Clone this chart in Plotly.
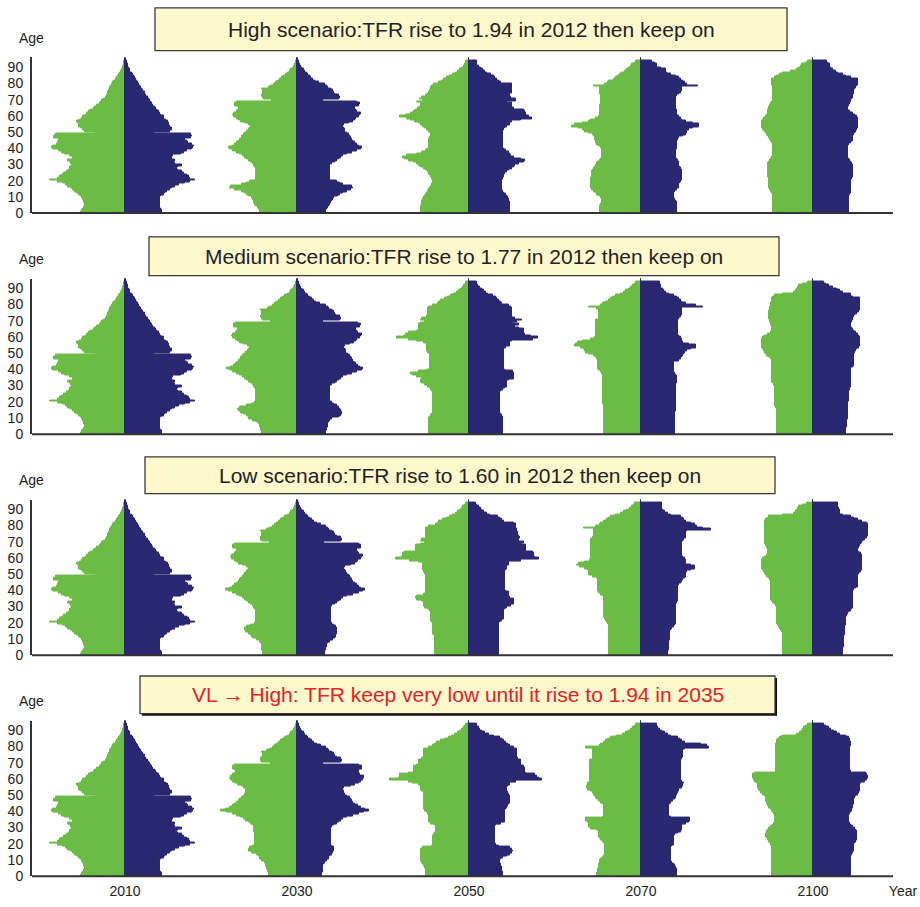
import numpy as np
import plotly.graph_objects as go

# ---------------------------------------------------------------------------
# Population by single year of age (0..95), relative units.
# "_m" = male (drawn to the left, green), "_f" = female (right, navy).
# ---------------------------------------------------------------------------
ages = np.arange(96)
years = ["2010", "2030", "2050", "2070", "2100"]

# Base year, identical in every scenario
male_2010 = [44, 43, 42, 41, 40, 40, 41, 41, 42, 43,
             44, 46, 48, 50, 52, 54, 57, 59, 62, 67,
             75, 67, 65, 63, 61, 58, 56, 55, 55, 53,
             54, 55, 57, 52, 52, 55, 60, 63, 66, 72,
             73, 72, 68, 67, 66, 66, 71, 71, 69, 29,
             40, 42, 44, 46, 46, 47, 48, 45, 43, 42,
             39, 38, 36, 34, 31, 30, 28, 25, 24, 23,
             21, 19, 18, 17, 17, 16, 15, 15, 14, 13,
             12, 11, 9, 8, 7, 6, 5, 4, 3, 2,
             2, 1, 1, 1, 0.5, 0.5]
female_2010 = [37, 37, 36, 35, 35, 35, 35, 35, 35, 35,
               36, 39, 40, 42, 45, 47, 50, 54, 60, 65,
               70, 65, 64, 62, 59, 57, 53, 52, 53, 57,
               50, 49, 50, 47, 47, 48, 56, 59, 62, 67,
               68, 69, 67, 63, 62, 60, 66, 67, 66, 29,
               45, 47, 47, 45, 44, 44, 43, 41, 39, 39,
               36, 35, 34, 32, 31, 30, 28, 27, 26, 25,
               24, 23, 21, 20, 20, 18, 17, 16, 15, 14,
               13, 12, 11, 10, 9, 8, 7, 5, 5, 4,
               3, 3, 2, 2, 1, 1]

# --- High scenario ----------------------------------------------------------
high_2030_m = [37, 37, 38, 39, 41, 42, 43, 43, 44, 45,
               48, 50, 52, 55, 62, 67, 66, 55, 50, 47,
               41, 41, 41, 41, 41, 41, 41, 41, 42, 43,
               44, 46, 48, 50, 52, 54, 57, 60, 64, 67,
               68, 64, 62, 60, 58, 57, 55, 55, 53, 52,
               50, 48, 47, 46, 48, 52, 56, 58, 60, 63,
               64, 63, 60, 59, 58, 58, 62, 62, 60, 25,
               33, 34, 35, 34, 34, 34, 35, 28, 26, 23,
               21, 19, 17, 15, 13, 11, 9, 7, 6, 4,
               3, 2, 1, 1, 0.5, 0]
high_2030_f = [29, 29, 30, 31, 32, 33, 34, 35, 36, 37,
               41, 43, 46, 50, 54, 56, 55, 46, 43, 40,
               33, 33, 33, 33, 33, 33, 33, 33, 33, 33,
               35, 38, 40, 42, 44, 46, 50, 55, 60, 64,
               65, 62, 60, 58, 56, 55, 54, 53, 52, 50,
               48, 48, 47, 46, 47, 52, 56, 58, 59, 62,
               63, 64, 60, 59, 58, 58, 62, 63, 60, 26,
               42, 43, 42, 38, 37, 36, 34, 31, 30, 28,
               22, 18, 16, 14, 13, 11, 10, 8, 7, 5,
               4, 3, 2, 2, 1, 1]
high_2050_m = [48, 48, 48, 48, 48, 47, 47, 47, 46, 45,
               44, 43, 42, 41, 40, 39, 38, 37, 36, 36,
               36, 37, 38, 39, 40, 41, 43, 45, 48, 50,
               52, 55, 60, 64, 66, 62, 52, 47, 43, 41,
               40, 40, 40, 40, 40, 40, 39, 38, 38, 38,
               40, 42, 44, 46, 48, 50, 54, 58, 62, 69,
               63, 58, 55, 53, 51, 49, 48, 48, 52, 46,
               49, 47, 43, 41, 40, 39, 38, 38, 37, 35,
               30, 27, 25, 22, 19, 16, 13, 11, 9, 7,
               5, 4, 3, 3, 0, 0]
high_2050_f = [41, 41, 41, 41, 41, 41, 41, 40, 40, 39,
               38, 37, 35, 34, 33, 33, 33, 33, 33, 33,
               33, 34, 35, 35, 36, 38, 40, 43, 45, 46,
               50, 55, 56, 52, 45, 42, 41, 40, 37, 35,
               34, 34, 34, 34, 34, 34, 34, 34, 34, 34,
               34, 35, 36, 38, 41, 41, 43, 52, 63, 60,
               57, 57, 56, 55, 45, 43, 43, 43, 38, 47,
               47, 42, 41, 41, 43, 43, 43, 43, 43, 43,
               32, 30, 28, 26, 25, 22, 18, 16, 14, 12,
               10, 8, 8, 8, 0, 0]
high_2070_m = [41, 41, 41, 41, 41, 40, 39, 39, 39, 40,
               42, 44, 45, 47, 49, 50, 50, 50, 50, 50,
               50, 50, 49, 49, 49, 49, 48, 47, 46, 45,
               44, 43, 41, 40, 39, 39, 39, 39, 39, 39,
               40, 42, 44, 45, 45, 46, 46, 47, 48, 52,
               56, 58, 62, 69, 66, 58, 52, 50, 45, 42,
               41, 41, 41, 41, 41, 41, 41, 40, 40, 40,
               40, 40, 40, 41, 41, 41, 41, 41, 47, 36,
               33, 32, 27, 25, 23, 21, 19, 16, 14, 12,
               10, 9, 6, 5, 0, 0]
high_2070_f = [36, 36, 36, 36, 36, 36, 36, 35, 34, 33,
               33, 33, 33, 34, 36, 38, 38, 38, 39, 40,
               41, 41, 41, 41, 41, 41, 41, 40, 39, 38,
               38, 38, 37, 36, 35, 35, 35, 35, 35, 36,
               36, 36, 36, 36, 36, 37, 38, 42, 45, 46,
               46, 48, 52, 58, 58, 52, 45, 41, 40, 38,
               36, 36, 36, 36, 35, 35, 35, 35, 35, 35,
               35, 35, 36, 38, 40, 41, 41, 41, 57, 46,
               44, 42, 40, 38, 35, 30, 26, 25, 25, 20,
               16, 16, 14, 11, 0, 0]
high_2100_m = [40, 40, 40, 40, 40, 40, 40, 40, 40, 40,
               40, 40, 41, 42, 43, 44, 44, 44, 44, 44,
               44, 44, 45, 45, 45, 45, 45, 45, 45, 45,
               45, 44, 43, 42, 41, 40, 40, 40, 40, 40,
               40, 40, 40, 41, 42, 43, 44, 45, 46, 47,
               48, 50, 51, 51, 51, 51, 51, 50, 49, 47,
               46, 45, 45, 45, 44, 44, 43, 42, 41, 40,
               40, 40, 40, 40, 40, 40, 40, 40, 40, 41,
               41, 41, 41, 38, 36, 33, 30, 22, 16, 14,
               12, 11, 7, 5, 0, 0]
high_2100_f = [36, 36, 36, 36, 36, 36, 36, 36, 36, 36,
               36, 37, 38, 38, 38, 38, 38, 38, 38, 38,
               38, 39, 40, 40, 40, 40, 40, 40, 40, 40,
               39, 38, 37, 36, 35, 35, 35, 35, 35, 35,
               35, 35, 36, 38, 40, 40, 40, 40, 41, 42,
               43, 44, 45, 45, 45, 45, 45, 45, 45, 44,
               42, 40, 37, 35, 35, 35, 36, 37, 38, 38,
               39, 40, 40, 41, 41, 41, 42, 43, 44, 45,
               45, 45, 45, 38, 33, 30, 25, 23, 20, 18,
               17, 17, 15, 14, 0, 0]

# --- Medium scenario --------------------------------------------------------
mid_2030_m = [35, 35, 36, 36, 37, 37, 38, 40, 44, 48,
              48, 50, 53, 56, 58, 59, 57, 50, 45, 42,
              41, 41, 41, 41, 41, 41, 41, 41, 42, 43,
              44, 46, 48, 50, 52, 54, 57, 60, 64, 67,
              70, 66, 63, 61, 59, 58, 56, 56, 54, 53,
              51, 49, 48, 47, 49, 53, 57, 59, 61, 64,
              65, 64, 61, 60, 59, 59, 63, 63, 61, 26,
              34, 35, 36, 35, 35, 35, 36, 29, 27, 24,
              22, 20, 18, 16, 14, 12, 9, 7, 6, 4,
              3, 2, 1, 1, 0.5, 0]
mid_2030_f = [29, 29, 30, 30, 31, 31, 31, 32, 33, 35,
              42, 44, 45, 45, 44, 43, 42, 40, 37, 35,
              33, 33, 33, 33, 33, 33, 33, 33, 33, 33,
              35, 38, 40, 42, 44, 46, 50, 55, 60, 65,
              66, 63, 61, 59, 57, 56, 55, 54, 53, 51,
              49, 49, 48, 47, 48, 53, 57, 59, 60, 63,
              64, 65, 61, 60, 59, 59, 63, 64, 61, 26,
              43, 44, 43, 39, 38, 37, 35, 32, 31, 29,
              23, 19, 17, 15, 13, 11, 10, 8, 7, 5,
              4, 3, 2, 2, 1, 1]
mid_2050_m = [40, 40, 40, 40, 40, 40, 40, 40, 40, 40,
              39, 38, 37, 36, 36, 36, 36, 36, 36, 36,
              36, 36, 36, 36, 36, 36, 37, 38, 39, 41,
              44, 47, 48, 48, 47, 52, 56, 58, 50, 42,
              39, 39, 39, 39, 39, 39, 39, 39, 39, 39,
              41, 42, 42, 42, 42, 42, 45, 52, 60, 72,
              65, 63, 60, 52, 50, 50, 50, 50, 48, 44,
              48, 47, 42, 41, 41, 41, 41, 41, 40, 36,
              31, 30, 28, 24, 21, 18, 15, 12, 10, 8,
              6, 5, 3, 3, 0, 0]
mid_2050_f = [34, 34, 34, 34, 34, 34, 34, 34, 34, 34,
              34, 33, 32, 31, 31, 31, 31, 31, 31, 31,
              31, 31, 31, 31, 31, 31, 32, 34, 36, 38,
              38, 38, 38, 40, 45, 45, 45, 45, 44, 36,
              35, 35, 35, 35, 35, 35, 35, 35, 35, 35,
              35, 35, 35, 37, 41, 41, 41, 43, 64, 69,
              62, 56, 55, 55, 55, 50, 46, 50, 44, 48,
              53, 46, 43, 43, 43, 43, 43, 43, 42, 40,
              33, 32, 30, 28, 27, 24, 19, 17, 15, 13,
              11, 9, 8, 8, 0, 0]
mid_2070_m = [37, 37, 37, 37, 37, 37, 37, 37, 37, 37,
              37, 37, 37, 37, 37, 37, 37, 37, 38, 38,
              38, 38, 38, 38, 38, 38, 38, 38, 38, 38,
              38, 38, 38, 38, 38, 38, 38, 39, 40, 42,
              43, 43, 43, 43, 43, 43, 44, 45, 47, 52,
              55, 56, 57, 60, 66, 65, 63, 58, 50, 46,
              45, 45, 45, 45, 45, 45, 45, 45, 45, 45,
              45, 42, 42, 42, 42, 42, 42, 44, 52, 40,
              38, 35, 32, 30, 28, 25, 20, 17, 15, 12,
              10, 8, 6, 5, 0, 0]
mid_2070_f = [34, 34, 34, 34, 34, 34, 34, 34, 34, 34,
              34, 34, 34, 34, 35, 35, 35, 35, 35, 35,
              35, 35, 35, 35, 35, 35, 35, 35, 35, 35,
              35, 36, 36, 36, 36, 36, 35, 34, 33, 33,
              33, 33, 33, 33, 33, 38, 40, 41, 42, 43,
              44, 46, 50, 55, 55, 48, 42, 41, 41, 40,
              38, 37, 37, 37, 37, 37, 37, 37, 37, 37,
              37, 38, 40, 41, 41, 41, 41, 41, 62, 55,
              45, 41, 40, 38, 36, 33, 28, 25, 23, 22,
              20, 20, 19, 19, 0, 0]
mid_2100_m = [36, 36, 36, 36, 36, 36, 36, 36, 36, 36,
              36, 36, 36, 36, 36, 36, 37, 38, 38, 38,
              38, 38, 38, 38, 38, 38, 38, 38, 38, 38,
              39, 40, 41, 41, 41, 41, 41, 41, 41, 41,
              41, 41, 41, 41, 41, 41, 42, 44, 46, 47,
              48, 49, 50, 51, 51, 51, 51, 51, 51, 50,
              48, 45, 42, 41, 41, 41, 41, 42, 42, 43,
              43, 44, 44, 44, 44, 44, 43, 43, 43, 42,
              42, 41, 41, 41, 40, 38, 30, 19, 17, 16,
              15, 14, 10, 5, 0, 0]
mid_2100_f = [33, 33, 33, 33, 34, 34, 34, 34, 34, 35,
              35, 35, 35, 35, 35, 35, 35, 35, 35, 35,
              36, 36, 36, 36, 36, 36, 36, 37, 37, 38,
              38, 38, 38, 38, 38, 38, 38, 38, 38, 38,
              38, 40, 41, 41, 41, 41, 41, 41, 41, 41,
              42, 43, 44, 46, 47, 47, 47, 47, 47, 47,
              46, 45, 43, 41, 40, 39, 38, 38, 38, 39,
              40, 40, 41, 42, 44, 46, 47, 47, 47, 47,
              47, 47, 47, 47, 40, 38, 38, 30, 27, 24,
              20, 16, 13, 11, 0, 0]

# --- Low scenario -----------------------------------------------------------
low_2030_m = [34, 34, 34, 35, 35, 35, 35, 36, 37, 40,
              44, 45, 46, 48, 51, 52, 52, 50, 46, 42,
              41, 41, 41, 41, 41, 41, 41, 41, 42, 43,
              44, 46, 48, 50, 52, 54, 57, 60, 64, 68,
              71, 67, 64, 62, 60, 58, 57, 56, 54, 53,
              52, 50, 49, 48, 50, 54, 58, 60, 62, 65,
              66, 65, 62, 61, 60, 60, 64, 64, 62, 27,
              35, 36, 36, 35, 35, 35, 36, 30, 27, 24,
              22, 20, 18, 16, 14, 12, 9, 7, 6, 4,
              3, 2, 1, 1, 0.5, 0]
low_2030_f = [28, 28, 28, 29, 29, 30, 30, 31, 33, 36,
              38, 39, 39, 40, 40, 40, 40, 39, 37, 35,
              34, 34, 34, 34, 34, 34, 34, 34, 34, 34,
              35, 38, 40, 42, 44, 46, 50, 56, 62, 66,
              68, 64, 62, 60, 58, 56, 55, 54, 53, 52,
              50, 49, 48, 47, 48, 54, 58, 60, 61, 64,
              65, 66, 62, 61, 60, 60, 64, 64, 62, 27,
              44, 45, 44, 40, 38, 37, 35, 32, 31, 29,
              24, 20, 17, 15, 13, 11, 10, 8, 7, 5,
              4, 3, 2, 2, 1, 1]
low_2050_m = [34, 34, 34, 34, 34, 34, 34, 34, 34, 34,
              34, 34, 35, 36, 36, 36, 36, 36, 36, 36,
              37, 38, 38, 38, 38, 38, 38, 39, 41, 44,
              45, 45, 45, 47, 52, 53, 52, 45, 43, 43,
              43, 43, 43, 43, 43, 43, 43, 43, 43, 43,
              44, 45, 46, 46, 46, 46, 46, 50, 59, 73,
              67, 66, 66, 64, 53, 53, 53, 53, 48, 44,
              48, 47, 43, 43, 43, 43, 43, 43, 43, 40,
              33, 31, 30, 26, 22, 19, 16, 13, 11, 9,
              7, 6, 4, 3, 0, 0]
low_2050_f = [30, 30, 30, 30, 30, 30, 30, 30, 30, 30,
              30, 30, 30, 30, 30, 30, 30, 30, 30, 30,
              31, 33, 35, 35, 35, 35, 35, 35, 36, 38,
              42, 45, 45, 45, 45, 41, 40, 40, 40, 37,
              36, 36, 36, 36, 36, 36, 36, 36, 36, 36,
              36, 36, 37, 38, 38, 40, 40, 40, 52, 70,
              66, 65, 65, 64, 57, 57, 57, 57, 52, 55,
              50, 50, 51, 50, 49, 49, 48, 48, 47, 47,
              47, 45, 35, 33, 31, 29, 21, 18, 15, 13,
              12, 10, 8, 7, 0, 0]
low_2070_m = [32, 32, 32, 32, 32, 32, 32, 32, 32, 32,
              32, 32, 32, 32, 32, 32, 32, 32, 32, 33,
              34, 35, 36, 37, 37, 37, 37, 37, 37, 37,
              37, 37, 37, 37, 37, 37, 38, 40, 42, 43,
              43, 43, 43, 43, 43, 43, 43, 44, 48, 52,
              52, 52, 53, 56, 61, 64, 62, 56, 51, 50,
              50, 50, 50, 50, 50, 50, 50, 50, 50, 50,
              50, 50, 48, 47, 47, 47, 47, 47, 57, 45,
              41, 40, 37, 34, 32, 30, 25, 20, 17, 14,
              11, 9, 7, 6, 0, 0]
low_2070_f = [27, 27, 27, 28, 28, 28, 28, 28, 28, 29,
              29, 29, 29, 29, 29, 30, 31, 33, 34, 35,
              35, 35, 35, 35, 35, 35, 35, 35, 35, 35,
              35, 35, 36, 37, 37, 37, 37, 37, 37, 37,
              37, 37, 37, 38, 40, 41, 42, 44, 45, 45,
              45, 46, 50, 54, 54, 50, 45, 45, 45, 44,
              42, 41, 41, 41, 41, 41, 41, 41, 41, 41,
              42, 43, 45, 45, 45, 45, 46, 70, 62, 56,
              54, 50, 45, 43, 42, 40, 30, 27, 24, 22,
              21, 21, 21, 21, 0, 0]
low_2100_m = [30, 30, 30, 30, 30, 30, 30, 30, 30, 30,
              30, 30, 30, 30, 31, 32, 33, 34, 35, 36,
              36, 36, 36, 36, 36, 36, 36, 36, 36, 36,
              37, 38, 40, 41, 42, 42, 42, 42, 42, 42,
              42, 42, 42, 42, 42, 42, 43, 44, 46, 47,
              48, 49, 50, 51, 51, 51, 51, 51, 51, 50,
              48, 46, 45, 45, 45, 45, 46, 47, 48, 48,
              48, 48, 48, 48, 48, 48, 48, 48, 48, 48,
              48, 48, 48, 47, 45, 44, 30, 19, 17, 16,
              15, 14, 10, 6, 0, 0]
low_2100_f = [30, 30, 30, 30, 30, 31, 31, 31, 31, 31,
              31, 31, 32, 32, 32, 32, 32, 32, 33, 33,
              33, 33, 33, 33, 34, 35, 36, 38, 39, 40,
              40, 40, 40, 40, 40, 40, 40, 40, 40, 40,
              41, 43, 45, 45, 45, 45, 45, 45, 45, 45,
              46, 48, 49, 49, 49, 49, 49, 49, 49, 49,
              49, 49, 48, 46, 45, 45, 46, 47, 48, 49,
              50, 52, 54, 55, 55, 55, 55, 55, 55, 55,
              55, 54, 49, 45, 41, 38, 30, 27, 27, 27,
              26, 25, 25, 25, 0, 0]

# --- Very low, then high from 2035 ------------------------------------------
vl_2030_m = [28, 28, 29, 29, 30, 30, 31, 31, 32, 35,
             37, 37, 38, 40, 45, 48, 48, 47, 44, 42,
             42, 42, 42, 42, 42, 42, 42, 43, 43, 43,
             43, 44, 46, 48, 51, 53, 56, 60, 64, 70,
             76, 71, 67, 64, 62, 60, 58, 57, 55, 53,
             52, 51, 51, 51, 53, 55, 59, 62, 64, 66,
             67, 66, 64, 62, 61, 62, 64, 64, 62, 26,
             35, 36, 36, 35, 34, 34, 35, 30, 27, 24,
             22, 20, 18, 16, 14, 12, 9, 7, 6, 4,
             3, 2, 1, 1, 0.5, 0]
vl_2030_f = [25, 25, 26, 26, 26, 26, 26, 27, 28, 30,
             32, 32, 33, 35, 36, 37, 37, 37, 35, 34,
             34, 34, 34, 34, 34, 34, 34, 34, 34, 34,
             35, 37, 40, 42, 44, 46, 50, 56, 62, 67,
             72, 68, 64, 61, 58, 56, 55, 54, 53, 50,
             48, 47, 47, 46, 47, 54, 58, 62, 64, 66,
             67, 67, 63, 62, 62, 62, 65, 65, 62, 26,
             44, 45, 44, 40, 38, 37, 35, 32, 31, 29,
             24, 20, 17, 15, 13, 11, 10, 8, 7, 5,
             4, 3, 2, 2, 1, 1]
vl_2050_m = [43, 43, 43, 43, 43, 44, 45, 46, 47, 48,
             48, 48, 48, 48, 48, 48, 48, 46, 37, 36,
             36, 36, 36, 36, 36, 35, 34, 33, 33, 33,
             33, 34, 38, 40, 40, 40, 40, 40, 41, 42,
             44, 45, 45, 45, 45, 45, 45, 45, 45, 45,
             45, 45, 47, 48, 48, 48, 50, 56, 60, 79,
             70, 69, 69, 60, 55, 55, 55, 55, 52, 50,
             50, 50, 47, 45, 45, 45, 45, 45, 45, 40,
             36, 34, 32, 28, 24, 20, 17, 14, 11, 9,
             7, 5, 4, 3, 0, 0]
vl_2050_f = [34, 34, 34, 33, 33, 33, 32, 32, 31, 31,
             32, 34, 38, 41, 43, 44, 43, 41, 30, 27,
             26, 26, 26, 26, 26, 26, 26, 26, 26, 26,
             26, 27, 32, 36, 36, 36, 36, 36, 36, 36,
             36, 37, 38, 39, 40, 41, 41, 41, 41, 41,
             40, 39, 38, 38, 38, 39, 41, 41, 47, 73,
             70, 68, 66, 57, 56, 56, 56, 55, 52, 52,
             52, 52, 49, 48, 48, 48, 48, 48, 48, 45,
             41, 39, 37, 35, 33, 31, 25, 20, 16, 13,
             11, 10, 8, 8, 0, 0]
vl_2070_m = [44, 44, 43, 43, 43, 42, 42, 42, 41, 41,
             40, 38, 37, 36, 36, 36, 36, 36, 36, 36,
             37, 38, 40, 41, 42, 42, 42, 42, 44, 50,
             52, 52, 52, 53, 55, 55, 38, 37, 37, 37,
             37, 37, 37, 37, 38, 40, 42, 44, 45, 46,
             47, 48, 50, 53, 54, 54, 53, 53, 51, 51,
             51, 51, 51, 51, 51, 51, 51, 51, 51, 51,
             51, 51, 48, 48, 48, 48, 48, 48, 48, 55,
             41, 40, 37, 35, 33, 30, 24, 18, 15, 12,
             10, 8, 6, 5, 0, 0]
vl_2070_f = [36, 36, 36, 36, 36, 35, 34, 33, 31, 30,
             30, 30, 30, 30, 30, 30, 30, 30, 31, 33,
             33, 33, 33, 33, 33, 34, 37, 40, 41, 41,
             41, 41, 45, 48, 49, 49, 30, 28, 28, 28,
             28, 28, 28, 28, 29, 30, 32, 34, 35, 35,
             36, 37, 38, 38, 41, 42, 42, 43, 41, 40,
             40, 40, 40, 40, 40, 40, 40, 40, 40, 40,
             40, 40, 41, 42, 42, 42, 42, 42, 44, 68,
             66, 60, 44, 41, 39, 37, 30, 27, 24, 21,
             19, 17, 16, 16, 0, 0]
vl_2100_m = [41, 41, 41, 41, 41, 41, 41, 41, 41, 41,
             41, 41, 41, 41, 41, 41, 41, 41, 41, 42,
             43, 44, 45, 46, 47, 47, 46, 46, 45, 44,
             42, 40, 39, 38, 38, 38, 38, 38, 39, 40,
             41, 42, 44, 45, 46, 46, 47, 47, 47, 48,
             50, 52, 53, 54, 55, 55, 55, 56, 58, 59,
             60, 60, 60, 58, 37, 37, 37, 37, 37, 37,
             37, 37, 37, 37, 37, 37, 37, 37, 37, 37,
             37, 37, 36, 36, 35, 33, 30, 16, 13, 11,
             10, 9, 7, 5, 0, 0]
vl_2100_f = [38, 38, 38, 38, 38, 38, 38, 38, 38, 38,
             38, 38, 38, 39, 40, 41, 41, 41, 41, 41,
             42, 43, 44, 44, 44, 44, 44, 44, 43, 42,
             40, 38, 37, 36, 36, 36, 36, 36, 37, 38,
             39, 39, 40, 40, 41, 41, 41, 41, 42, 43,
             45, 46, 47, 47, 47, 47, 47, 48, 52, 54,
             55, 55, 54, 53, 38, 37, 37, 37, 37, 37,
             37, 37, 37, 37, 37, 37, 37, 37, 37, 37,
             38, 38, 38, 37, 37, 36, 33, 27, 24, 21,
             18, 16, 13, 11, 0, 0]

scenario_titles = [
    "High scenario:TFR rise to 1.94 in 2012 then keep on",
    "Medium scenario:TFR rise to 1.77 in 2012 then keep on",
    "Low scenario:TFR rise to 1.60 in 2012 then keep on",
    "VL \u2192 High: TFR keep very low until it rise to 1.94 in 2035",
]

pyramids = [
    [(male_2010, female_2010), (high_2030_m, high_2030_f), (high_2050_m, high_2050_f),
     (high_2070_m, high_2070_f), (high_2100_m, high_2100_f)],
    [(male_2010, female_2010), (mid_2030_m, mid_2030_f), (mid_2050_m, mid_2050_f),
     (mid_2070_m, mid_2070_f), (mid_2100_m, mid_2100_f)],
    [(male_2010, female_2010), (low_2030_m, low_2030_f), (low_2050_m, low_2050_f),
     (low_2070_m, low_2070_f), (low_2100_m, low_2100_f)],
    [(male_2010, female_2010), (vl_2030_m, vl_2030_f), (vl_2050_m, vl_2050_f),
     (vl_2070_m, vl_2070_f), (vl_2100_m, vl_2100_f)],
]

for panel in pyramids:
    for m, f in panel:
        assert len(m) == len(ages) and len(f) == len(ages)

# ---------------------------------------------------------------------------
# Styling / layout
# ---------------------------------------------------------------------------
W, H = 920, 907
GREEN = "#6BBC45"
NAVY = "#2A2971"
AXIS = "#333333"
TEXT = "#222222"
FONT = "Liberation Sans, Arial, Helvetica, sans-serif"

slot_spacing = 172                       # distance between pyramid centres
centres = [i * slot_spacing for i in range(len(years))]

# The x axes run to the right edge of the page so that the "Year" caption can
# sit on the tick-label line; the visible baseline stops at line_end.
plot_left = 32                           # px
x_range = [-93, 795]                     # axis units across [plot_left, W]
line_end = 768                           # baseline end, axis units
year_caption_pos = 778                   # axis units

panel_bottom = [215, 438, 661, 884]      # px from top
panel_height = 157                       # px (96 years of age)
age_max = 96

# title boxes: (x0, x1, y0, y1) in px
boxes = [(155, 787, 8, 51), (149, 779, 239, 278), (145, 775, 461, 498), (140, 775, 682, 720)]
title_colors = [TEXT, TEXT, TEXT, "#E62129"]


def px_x(v):
    return v / W


def px_y(v):
    return 1 - v / H


fig = go.Figure()
layout = dict(
    width=W, height=H,
    margin=dict(l=0, r=0, t=0, b=0),
    paper_bgcolor="white", plot_bgcolor="white",
    barmode="overlay", bargap=0,
    showlegend=False,
    font=dict(family=FONT, color=TEXT),
)

shapes = []
annotations = []
n_panels = len(pyramids)

for p, panel in enumerate(pyramids):
    sfx = "" if p == 0 else str(p + 1)
    for i, (m, f) in enumerate(panel):
        c = centres[i]
        # outline in the fill colour closes the hairline seams between ages
        fig.add_trace(go.Bar(
            orientation="h", y=ages + 0.5, x=-np.asarray(m, dtype=float), base=c,
            width=1, marker=dict(color=GREEN, line=dict(color=GREEN, width=1)),
            xaxis="x" + sfx, yaxis="y" + sfx, hoverinfo="skip"))
        fig.add_trace(go.Bar(
            orientation="h", y=ages + 0.5, x=np.asarray(f, dtype=float), base=c,
            width=1, marker=dict(color=NAVY, line=dict(color=NAVY, width=1)),
            xaxis="x" + sfx, yaxis="y" + sfx, hoverinfo="skip"))

    last = (p == n_panels - 1)
    bottom = panel_bottom[p]
    top = bottom - panel_height
    layout["xaxis" + sfx] = dict(
        domain=[px_x(plot_left), 1.0], range=x_range,
        anchor="y" + sfx, showline=False,
        showgrid=False, zeroline=False, ticks="",
        tickvals=centres + [year_caption_pos], ticktext=years + ["Year"],
        showticklabels=last, ticklabelstandoff=5,
        tickfont=dict(size=14, color=TEXT, family=FONT), fixedrange=True)
    layout["yaxis" + sfx] = dict(
        domain=[px_y(bottom), px_y(top)], range=[0, age_max],
        anchor="x" + sfx, showline=True, linecolor=AXIS, linewidth=2,
        showgrid=False, zeroline=False, ticks="",
        tickvals=list(range(0, 91, 10)), ticklabelstandoff=4,
        tickfont=dict(size=14, color=TEXT, family=FONT), fixedrange=True)

    # horizontal baseline of the panel
    shapes.append(dict(type="line", xref="x" + sfx, yref="y" + sfx + " domain",
                       x0=x_range[0], x1=line_end, y0=0, y1=0,
                       line=dict(color=AXIS, width=2), layer="above"))

    # "Age" caption above the axis
    annotations.append(dict(
        x=px_x(31), y=px_y(top - 20), xref="paper", yref="paper",
        text="Age", showarrow=False, font=dict(size=14, color=TEXT, family=FONT),
        xanchor="center", yanchor="middle"))

    # scenario title box
    x0, x1, y0, y1 = boxes[p]
    if p == 3:
        shapes.append(dict(type="rect", xref="paper", yref="paper",
                           x0=px_x(x0 + 2), x1=px_x(x1 + 2), y0=px_y(y1 + 2), y1=px_y(y0 + 2),
                           fillcolor="#111111", line=dict(width=0), layer="above"))
    shapes.append(dict(type="rect", xref="paper", yref="paper",
                       x0=px_x(x0), x1=px_x(x1), y0=px_y(y1), y1=px_y(y0),
                       fillcolor="#FDF9CD", line=dict(color="#3A3A3A", width=1.3),
                       layer="above"))
    annotations.append(dict(
        x=px_x((x0 + x1) / 2), y=px_y((y0 + y1) / 2), xref="paper", yref="paper",
        text=scenario_titles[p], showarrow=False,
        font=dict(size=21, color=title_colors[p], family=FONT),
        xanchor="center", yanchor="middle"))

layout["shapes"] = shapes
layout["annotations"] = annotations
fig.update_layout(**layout)

fig.write_html("out.html")
